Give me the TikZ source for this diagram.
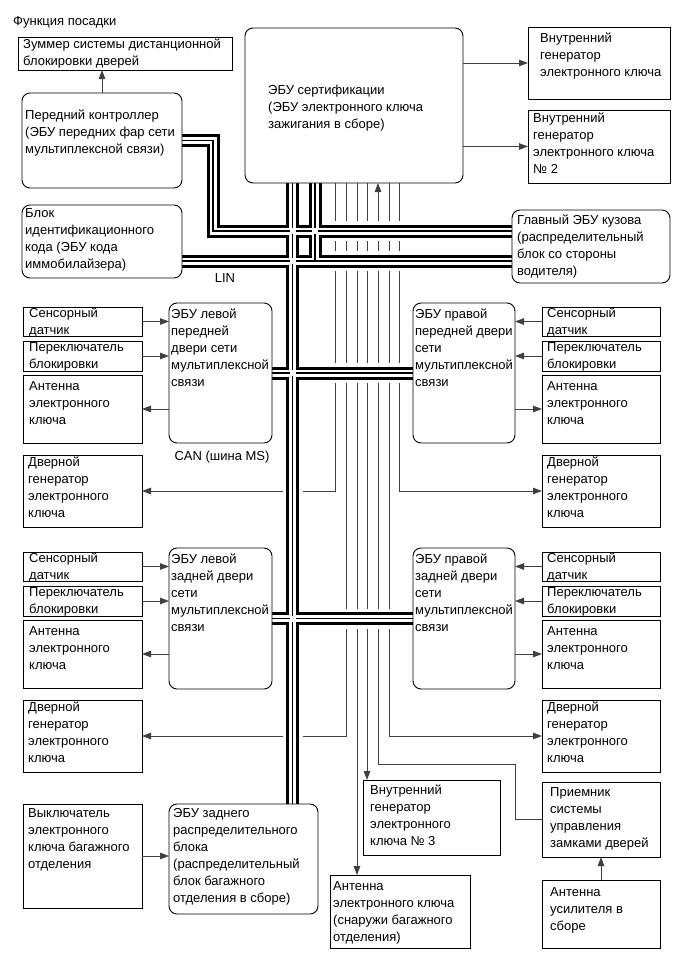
\documentclass[tikz,border=0pt]{standalone}
\usepackage{fontspec}
\setmainfont{Liberation Sans}
\usetikzlibrary{arrows.meta,backgrounds}

\newcommand{\fs}{\fontsize{13}{17}\selectfont}

\begin{document}
\begin{tikzpicture}[x=1pt, y=-1pt,
    box/.style={draw, line width=0.9pt, fill=white, anchor=north west, inner sep=0pt, outer sep=0pt},
    ecu/.style={box, rounded corners=8pt},
    txt/.style={anchor=north west, align=left, inner sep=0pt, yshift=-2pt, font=\fs, execute at begin node={\fs\strut}},
    lbl/.style={inner sep=0pt, font=\fs},
    sig/.style={line width=0.9pt, black!75},
    arr/.style={sig, -{Triangle[length=9pt, width=6.5pt]}},
    bus/.style={line width=13pt, line join=miter,
        preaction={draw=white, line width=20pt, line join=miter},
        postaction={draw=white, line width=7pt, line join=miter},
        postaction={draw=black, line width=1.2pt, line join=miter}},
]
\useasboundingbox (0,0) rectangle (687,954);

% Title
\node[lbl, anchor=base west] (title) at (13,25) {Функция посадки};

% Top blocks
\node[box, minimum width=214pt, minimum height=33pt] (buzzer) at (18,37) {};
\node[txt] (buzzer-t) at ([shift={(5,0)}]buzzer.north west) {Зуммер системы дистанционной\\блокировки дверей};

\node[ecu, minimum width=160pt, minimum height=95pt] (frontctl) at (22,93) {};
\node[txt] (frontctl-t) at ([shift={(3,15)}]frontctl.north west) {Передний контроллер\\(ЭБУ передних фар сети\\мультиплексной связи)};

\node[ecu, minimum width=160pt, minimum height=73pt] (immo) at (22,205) {};
\node[txt] (immo-t) at ([shift={(3,1)}]immo.north west) {Блок\\идентификационного\\кода (ЭБУ кода\\иммобилайзера)};

\node[ecu, minimum width=218pt, minimum height=155pt] (cert) at (245,28) {};
\node[txt] (cert-t) at ([shift={(23,55)}]cert.north west) {ЭБУ сертификации\\(ЭБУ электронного ключа\\зажигания в сборе)};

\node[box, minimum width=142pt, minimum height=72pt] (gen1) at (528,27) {};
\node[txt] (gen1-t) at ([shift={(12,4)}]gen1.north west) {Внутренний\\генератор\\электронного ключа};

\node[box, minimum width=142pt, minimum height=73pt] (gen2) at (528,110) {};
\node[txt] (gen2-t) at ([shift={(5,1)}]gen2.north west) {Внутренний\\генератор\\электронного ключа\\№ 2};

\node[ecu, minimum width=158pt, minimum height=73pt] (body) at (512,210) {};
\node[txt] (body-t) at ([shift={(5,3)}]body.north west) {Главный ЭБУ кузова\\(распределительный\\блок со стороны\\водителя)};

\node[lbl] (lin) at (225,278) {LIN};

% Front doors
\node[ecu, minimum width=103pt, minimum height=140pt] (lfecu) at (169,303) {};
\node[txt] (lfecu-t) at ([shift={(2,4)}]lfecu.north west) {ЭБУ левой\\передней\\двери сети\\мультиплексной\\связи};
\node[ecu, minimum width=102pt, minimum height=140pt] (rfecu) at (413,303) {};
\node[txt] (rfecu-t) at ([shift={(2,4)}]rfecu.north west) {ЭБУ правой\\передней двери\\сети\\мультиплексной\\связи};

\node[lbl] (can) at (222,457) {CAN (шина MS)};

\node[box, minimum width=119pt, minimum height=29pt] (lfsens) at (23,307) {};
\node[txt] (lfsens-t) at ([shift={(6,-1)}]lfsens.north west) {Сенсорный\\датчик};
\node[box, minimum width=119pt, minimum height=30pt] (lfsw) at (23,341) {};
\node[txt] (lfsw-t) at ([shift={(6,-1)}]lfsw.north west) {Переключатель\\блокировки};
\node[box, minimum width=119pt, minimum height=68pt] (lfant) at (23,375) {};
\node[txt] (lfant-t) at ([shift={(6,4)}]lfant.north west) {Антенна\\электронного\\ключа};
\node[box, minimum width=119pt, minimum height=72pt] (lfgen) at (23,455) {};
\node[txt] (lfgen-t) at ([shift={(5,0)}]lfgen.north west) {Дверной\\генератор\\электронного\\ключа};

\node[box, minimum width=118pt, minimum height=29pt] (rfsens) at (542,307) {};
\node[txt] (rfsens-t) at ([shift={(5,-1)}]rfsens.north west) {Сенсорный\\датчик};
\node[box, minimum width=118pt, minimum height=30pt] (rfsw) at (542,341) {};
\node[txt] (rfsw-t) at ([shift={(5,-1)}]rfsw.north west) {Переключатель\\блокировки};
\node[box, minimum width=118pt, minimum height=68pt] (rfant) at (542,375) {};
\node[txt] (rfant-t) at ([shift={(5,4)}]rfant.north west) {Антенна\\электронного\\ключа};
\node[box, minimum width=118pt, minimum height=72pt] (rfgen) at (542,455) {};
\node[txt] (rfgen-t) at ([shift={(5,0)}]rfgen.north west) {Дверной\\генератор\\электронного\\ключа};

% Rear doors
\node[ecu, minimum width=103pt, minimum height=141pt] (lrecu) at (169,548) {};
\node[txt] (lrecu-t) at ([shift={(2,4)}]lrecu.north west) {ЭБУ левой\\задней двери\\сети\\мультиплексной\\связи};
\node[ecu, minimum width=102pt, minimum height=141pt] (rrecu) at (413,548) {};
\node[txt] (rrecu-t) at ([shift={(2,4)}]rrecu.north west) {ЭБУ правой\\задней двери\\сети\\мультиплексной\\связи};

\node[box, minimum width=119pt, minimum height=29pt] (lrsens) at (23,552) {};
\node[txt] (lrsens-t) at ([shift={(6,-1)}]lrsens.north west) {Сенсорный\\датчик};
\node[box, minimum width=119pt, minimum height=30pt] (lrsw) at (23,586) {};
\node[txt] (lrsw-t) at ([shift={(6,-1)}]lrsw.north west) {Переключатель\\блокировки};
\node[box, minimum width=119pt, minimum height=68pt] (lrant) at (23,620) {};
\node[txt] (lrant-t) at ([shift={(6,4)}]lrant.north west) {Антенна\\электронного\\ключа};
\node[box, minimum width=119pt, minimum height=72pt] (lrgen) at (23,700) {};
\node[txt] (lrgen-t) at ([shift={(5,0)}]lrgen.north west) {Дверной\\генератор\\электронного\\ключа};

\node[box, minimum width=118pt, minimum height=29pt] (rrsens) at (542,552) {};
\node[txt] (rrsens-t) at ([shift={(5,-1)}]rrsens.north west) {Сенсорный\\датчик};
\node[box, minimum width=118pt, minimum height=30pt] (rrsw) at (542,586) {};
\node[txt] (rrsw-t) at ([shift={(5,-1)}]rrsw.north west) {Переключатель\\блокировки};
\node[box, minimum width=118pt, minimum height=68pt] (rrant) at (542,620) {};
\node[txt] (rrant-t) at ([shift={(5,4)}]rrant.north west) {Антенна\\электронного\\ключа};
\node[box, minimum width=118pt, minimum height=72pt] (rrgen) at (542,700) {};
\node[txt] (rrgen-t) at ([shift={(5,0)}]rrgen.north west) {Дверной\\генератор\\электронного\\ключа};

% Bottom blocks
\node[box, minimum width=119pt, minimum height=104pt] (trunksw) at (23,804) {};
\node[txt] (trunksw-t) at ([shift={(5,2)}]trunksw.north west) {Выключатель\\электронного\\ключа багажного\\отделения};
\node[ecu, minimum width=149pt, minimum height=110pt] (reardist) at (169,804) {};
\node[txt] (reardist-t) at ([shift={(4,2)}]reardist.north west) {ЭБУ заднего\\распределительного\\блока\\(распределительный\\блок багажного\\отделения в сборе)};
\node[box, minimum width=137pt, minimum height=75pt] (gen3) at (363,780) {};
\node[txt] (gen3-t) at ([shift={(7,3)}]gen3.north west) {Внутренний\\генератор\\электронного\\ключа № 3};
\node[box, minimum width=140pt, minimum height=73pt] (antout) at (330,875) {};
\node[txt] (antout-t) at ([shift={(3,4)}]antout.north west) {Антенна\\электронного ключа\\(снаружи багажного\\отделения)};
\node[box, minimum width=118pt, minimum height=75pt] (receiver) at (542,782) {};
\node[txt] (receiver-t) at ([shift={(8,3)}]receiver.north west) {Приемник\\системы\\управления\\замками дверей};
\node[box, minimum width=118pt, minimum height=68pt] (ampant) at (542,880) {};
\node[txt] (ampant-t) at ([shift={(8,5)}]ampant.north west) {Антенна\\усилителя в\\сборе};

% Bus and signal line positions
\coordinate (tk) at (292.5,0);
\coordinate (lb) at (315,0);
\coordinate (fk) at (213,0);
\coordinate (yc) at (0,231);
\coordinate (yl) at (0,261);
\coordinate (s1) at (335,0);
\coordinate (s2) at (346,0);
\coordinate (s3) at (357,0);
\coordinate (s4) at (367,0);
\coordinate (s5) at (378,0);
\coordinate (s6) at (389,0);
\coordinate (s7) at (399,0);
\coordinate (rk) at (515,764);

\begin{scope}[on background layer]
% Signal lines from the certification ECU
\draw[arr] (s1 |- cert.south) |- (lfgen.east);
\draw[arr] (s2 |- cert.south) |- (lrgen.east);
\draw[arr] (s3 |- cert.south) -- (s3 |- antout.north);
\draw[arr] (s4 |- cert.south) -- (s4 |- gen3.north);
\draw[arr] (receiver.west) -| (rk) -- (s5 |- rk) -- (s5 |- cert.south);
\draw[arr] (s6 |- cert.south) |- (rrgen.west);
\draw[arr] (s7 |- cert.south) |- (rfgen.west);

% CAN and LIN buses
\draw[bus]
    (tk |- cert.south) -- (tk |- reardist.north)
    (frontctl.east) -- (fk |- frontctl.east) -- (fk |- yc) -- (body.west |- yc)
    (immo.east |- yl) -- (body.west |- yl)
    (lb |- cert.south) -- (lb |- yl)
    (lfecu.east) -- (rfecu.west)
    (lrecu.east) -- (rrecu.west);

% Junctions
\fill[white] (tk |- yc) +(-3,-3) rectangle +(3,3);
\fill[white] (tk |- yl) +(-3,-3) rectangle +(3,3);
\fill[white] (lb |- yc) +(-3,-3) rectangle +(3,3);
\fill[white] (tk |- lfecu.east) +(-3,-3) rectangle +(3,3);
\fill[white] (tk |- lrecu.east) +(-3,-3) rectangle +(3,3);
\end{scope}

% Short connectors
\draw[arr] (frontctl.north) -- (frontctl.north |- buzzer.south);
\draw[arr] (cert.east |- gen1.west) -- (gen1.west);
\draw[arr] (cert.east |- gen2.west) -- (gen2.west);

\draw[arr] (lfsens.east) -- (lfsens.east -| lfecu.west);
\draw[arr] (lfsw.east) -- (lfsw.east -| lfecu.west);
\draw[arr] (lfant.east -| lfecu.west) -- (lfant.east);
\draw[arr] (rfsens.west) -- (rfsens.west -| rfecu.east);
\draw[arr] (rfsw.west) -- (rfsw.west -| rfecu.east);
\draw[arr] (rfant.west -| rfecu.east) -- (rfant.west);

\draw[arr] (lrsens.east) -- (lrsens.east -| lrecu.west);
\draw[arr] (lrsw.east) -- (lrsw.east -| lrecu.west);
\draw[arr] (lrant.east -| lrecu.west) -- (lrant.east);
\draw[arr] (rrsens.west) -- (rrsens.west -| rrecu.east);
\draw[arr] (rrsw.west) -- (rrsw.west -| rrecu.east);
\draw[arr] (rrant.west -| rrecu.east) -- (rrant.west);

\draw[arr] (trunksw.east) -- (trunksw.east -| reardist.west);
\draw[arr] (ampant.north) -- (ampant.north |- receiver.south);

\end{tikzpicture}
\end{document}
